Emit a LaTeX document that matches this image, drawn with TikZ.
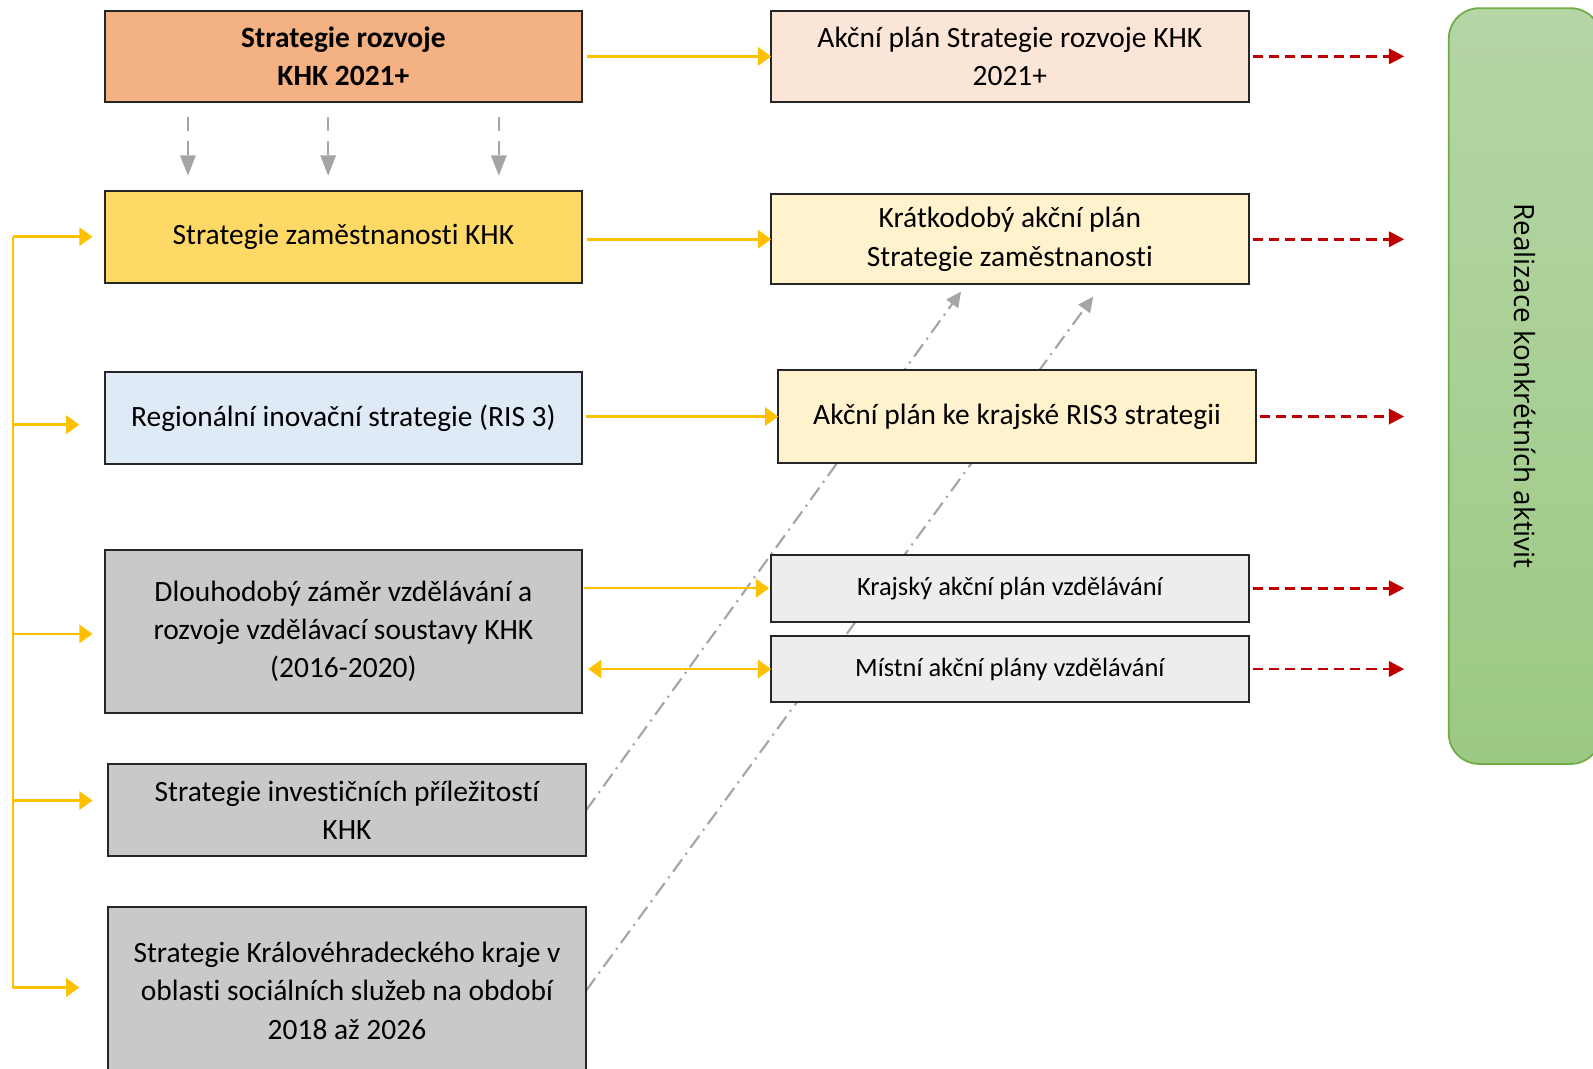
\documentclass[tikz,border=0pt]{standalone}
\usepackage{fontspec}
\setmainfont[RawFeature=-liga]{Carlito}
\newfontfamily\realfont{Open Sans}
\usetikzlibrary{arrows.meta}
\usetikzlibrary{backgrounds}
\definecolor{srfill}{HTML}{F4B183}
\definecolor{szfill}{HTML}{FFD966}
\definecolor{risfill}{HTML}{DEEBF7}
\definecolor{grayfill}{HTML}{C9C9C9}
\definecolor{aprfill}{HTML}{FBE5D6}
\definecolor{kapfill}{HTML}{FFF2CC}
\definecolor{vzdfill}{HTML}{EDEDED}
\definecolor{realtop}{HTML}{B5D6A5}
\definecolor{realbot}{HTML}{9CC984}
\definecolor{realline}{HTML}{70AD47}
\definecolor{khkyellow}{HTML}{FFC000}
\definecolor{khkred}{HTML}{C00000}
\definecolor{khkgray}{HTML}{A5A5A5}
\tikzset{
  box/.style={draw=black!85, line width=1.1pt, minimum width=9.4cm, inner sep=0pt, outer sep=0pt, align=center, font=\fontsize{16.5}{21.5}\selectfont},
  smallbox/.style={box, font=\fontsize{14.8}{17}\selectfont},
  realbox/.style={draw=realline, line width=1pt, rounded corners=0.6cm, top color=realtop, bottom color=realbot},
  yline/.style={draw=khkyellow, line width=1.4pt},
  yarrow/.style={yline, -{Triangle[length=0.26cm,width=0.36cm]}},
  ydouble/.style={yline, {Triangle[length=0.26cm,width=0.36cm]}-{Triangle[length=0.26cm,width=0.36cm]}},
  redarrow/.style={draw=khkred, line width=1.5pt, dash pattern=on 0.2cm off 0.12cm, -{Triangle[length=0.3cm,width=0.3cm]}},
  grayarrow/.style={draw=khkgray, line width=1.2pt, dash pattern=on 0.28cm off 0.2cm, -{Triangle[length=0.4cm,width=0.3cm]}},
  dotarrow/.style={draw=khkgray, line width=1.2pt, dash pattern=on 0.3cm off 0.12cm on 0.04cm off 0.12cm, -{Triangle[length=0.3cm,width=0.28cm]}}
}

\begin{document}
\begin{tikzpicture}[x=0.02cm,y=-0.02cm]
    \useasboundingbox (0,0) rectangle (1568,1052);
    % left column
    \node[box, fill=srfill, minimum height=1.78cm, font=\fontsize{16.5}{21.5}\selectfont\bfseries] (sr) at (338,55.5) {Strategie rozvoje\\KHK 2021+};
    \node[box, fill=szfill, minimum height=1.82cm] (sz) at (338,233.5) {Strategie zaměstnanosti KHK};
    \node[box, fill=risfill, minimum height=1.82cm] (ris) at (338,411.5) {Regionální inovační strategie (RIS 3)};
    \node[box, fill=grayfill, minimum height=3.22cm] (dz) at (338,621.5) {Dlouhodobý záměr vzdělávání a\\rozvoje vzdělávací soustavy KHK\\(2016-2020)};
    \node[box, fill=grayfill, minimum height=1.82cm, minimum width=9.42cm] (sip) at (341.5,797.5) {Strategie investičních příležitostí\\KHK};
    \node[box, fill=grayfill, minimum height=3.28cm, minimum width=9.42cm] (sks) at (341.5,975) {Strategie Královéhradeckého kraje v\\oblasti sociálních služeb na období\\2018 až 2026};
    % right column
    \node[box, fill=aprfill, minimum height=1.78cm] (apr) at (994,55.5) {Akční plán Strategie rozvoje KHK\\2021+};
    \node[box, fill=kapfill, minimum height=1.78cm] (kap) at (994,235.5) {Krátkodobý akční plán\\Strategie zaměstnanosti};
    \node[box, fill=kapfill, minimum height=1.84cm] (apris) at (1001,410) {Akční plán ke krajské RIS3 strategii};
    \node[smallbox, fill=vzdfill, minimum height=1.32cm] (kapv) at (994,579) {Krajský akční plán vzdělávání};
    \node[smallbox, fill=vzdfill, minimum height=1.3cm] (map) at (994,658.5) {Místní akční plány vzdělávání};
    % realizace
    \node[realbox, minimum width=3.0cm, minimum height=14.88cm] (real) at (1501,380) {};
    \node[rotate=-90, font=\realfont\fontsize{15.6}{18}\selectfont] (realtxt) at (real.center) {Realizace konkrétních aktivit};

    % links behind the boxes
    \begin{scope}[on background layer]
        \draw[dotarrow] (sip.east) -- ([xshift=-0.96cm,yshift=-0.14cm]kap.south);
        \draw[dotarrow] (sks.east) -- ([xshift=1.64cm,yshift=-0.24cm]kap.south);
    \end{scope}

    % down arrows
    \foreach \x in {185,323,491}
        \draw[grayarrow, shorten <=0.3cm, shorten >=0.3cm] (\x,0 |- sr.south) -- (\x,0 |- sz.north);

    % yellow arrows to the action plans
    \draw[yarrow, shorten <=0.1cm] (sr.east) -- (apr.west);
    \draw[yarrow, shorten <=0.1cm] (kap.west -| sz.east) -- (kap.west);
    \draw[yarrow, shorten <=0.08cm] (apris.west -| ris.east) -- (apris.west);
    \draw[yarrow, shorten <=0.04cm, shorten >=0.04cm] (kapv.west -| dz.east) -- (kapv.west);
    \draw[ydouble, shorten <=0.12cm] (map.west -| dz.east) -- (map.west);

    % left bus
    \coordinate (bustop) at (13,233);
    \coordinate (busend) at (13,972);
    \draw[yline] (bustop) -- (busend);
    \draw[yarrow, shorten >=0.24cm] (bustop) -- (sz.west |- bustop);
    \draw[yarrow, shorten >=0.5cm] ([yshift=-0.13cm]ris.west -| bustop) -- ([yshift=-0.13cm]ris.west);
    \draw[yarrow, shorten >=0.24cm] ([yshift=-0.05cm]dz.west -| bustop) -- ([yshift=-0.05cm]dz.west);
    \draw[yarrow, shorten >=0.3cm] ([yshift=0.19cm]sip.west -| bustop) -- ([yshift=0.19cm]sip.west);
    \draw[yarrow, shorten >=0.56cm] (busend) -- (sks.west |- busend);

    % red arrows to realizace
    \foreach \n in {apr,kap,apris,kapv,map}
        \draw[redarrow, shorten <=0.08cm, shorten >=0.86cm] (\n.east) -- (\n.east -| real.west);
\end{tikzpicture}
\end{document}
